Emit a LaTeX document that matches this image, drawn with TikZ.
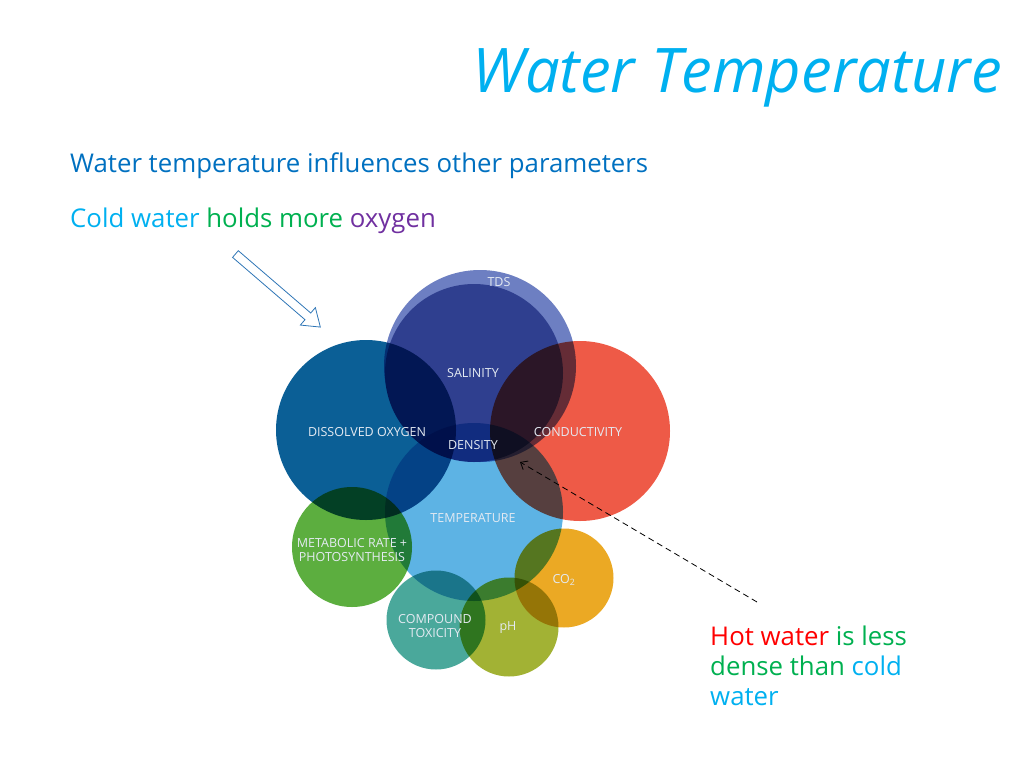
\documentclass[tikz,border=0pt]{standalone}
\usepackage{fontspec}
\setmainfont{Open Sans}
\usetikzlibrary{arrows.meta,shapes.arrows}
\definecolor{titleblue}{HTML}{00B0F0}
\definecolor{headblue}{HTML}{0070C0}
\definecolor{okgreen}{HTML}{00B050}
\definecolor{oxpurple}{HTML}{7030A0}
\definecolor{hotred}{HTML}{FF0000}
\definecolor{arrowblue}{HTML}{2E75B6}
\definecolor{tdsblue}{HTML}{6D7FC2}
\definecolor{salblue}{HTML}{2F3F8F}
\definecolor{doblue}{HTML}{0B5F96}
\definecolor{condred}{HTML}{EE5A47}
\definecolor{tempblue}{HTML}{5DB3E4}
\definecolor{metgreen}{HTML}{5CAE3F}
\definecolor{cotwo}{HTML}{EBA924}
\definecolor{comteal}{HTML}{4AA89B}
\definecolor{phgreen}{HTML}{A2B234}
\definecolor{lblwhite}{HTML}{E4EAF2}

\tikzset{
  bubble/.style 2 args={circle,fill=#1,minimum size=#2,inner sep=0pt},
  lbl/.style={text=lblwhite,font=\fontsize{12.5}{14}\selectfont,align=center,inner sep=0pt},
  slidetext/.style={font=\fontsize{25.8}{30}\selectfont,inner sep=0pt}
}

\begin{document}
\begin{tikzpicture}[x=1pt,y=-1pt]
\useasboundingbox (0,0) rectangle (1024,768);

\node[anchor=base east,inner sep=0pt,text=titleblue,font=\fontsize{61.5}{70}\selectfont\itshape] (title) at (1002,92) {Water Temperature};
\node[slidetext,anchor=base west,text=headblue] (influence) at (70,172) {Water temperature influences other parameters};
\node[slidetext,anchor=base west] (coldnote) at (70,227) {\textcolor{titleblue}{Cold water} \textcolor{okgreen}{holds more} \textcolor{oxpurple}{oxygen}};

% circles
\node[bubble={tdsblue}{192pt}] (tds) at (480,366) {};
\node[bubble={salblue}{178pt}] (salinity) at (474,373) {};
\begin{scope}[blend mode=multiply]
\node[bubble={doblue}{180pt}] (oxygen) at (366,430) {};
\node[bubble={condred}{180pt}] (conduct) at (580,431) {};
\node[bubble={tempblue}{178pt}] (temp) at (474,512) {};
\node[bubble={metgreen}{120pt}] (metab) at (352,547) {};
\node[bubble={cotwo}{99pt}] (co2) at (564,578) {};
\node[bubble={comteal}{99pt}] (toxic) at (436,620) {};
\node[bubble={phgreen}{99pt}] (ph) at (509,627) {};
\end{scope}

\node[lbl] (tdslbl) at (499,282) {TDS};
\node[lbl] (sallbl) at (473,373) {SALINITY};
\node[lbl] (oxylbl) at (367,432) {DISSOLVED OXYGEN};
\node[lbl] (denslbl) at (473,445) {DENSITY};
\node[lbl] (condlbl) at (578,432) {CONDUCTIVITY};
\node[lbl] (templbl) at (473,518) {TEMPERATURE};
\node[lbl] (metlbl) at (352,550) {METABOLIC RATE +\\PHOTOSYNTHESIS};
\node[lbl] (colbl) at (564,580) {CO\textsubscript{2}};
\node[lbl] (toxlbl) at (435,626) {COMPOUND\\TOXICITY};
\node[lbl] (phlbl) at (508,628) {pH};

% arrows
\node[single arrow,draw=arrowblue,line width=0.8pt,minimum height=112pt,minimum width=20pt,
  inner sep=4pt,single arrow tip angle=70,rotate=-40.7] (oxyarrow) at (275.5,288.5) {};

\node[slidetext,anchor=north west,align=left] (hotnote) at (710,626)
  {\textcolor{hotred}{Hot water} \textcolor{okgreen}{is less}\\\textcolor{okgreen}{dense than} \textcolor{titleblue}{cold}\\\textcolor{titleblue}{water}};
\coordinate (hotstart) at (757,602);
\coordinate (denspt) at (520,462);
\draw[line width=0.8pt,dash pattern=on 6pt off 4pt,-{Straight Barb[length=6pt,width=10pt]}] (hotstart) -- (denspt);
\end{tikzpicture}
\end{document}
